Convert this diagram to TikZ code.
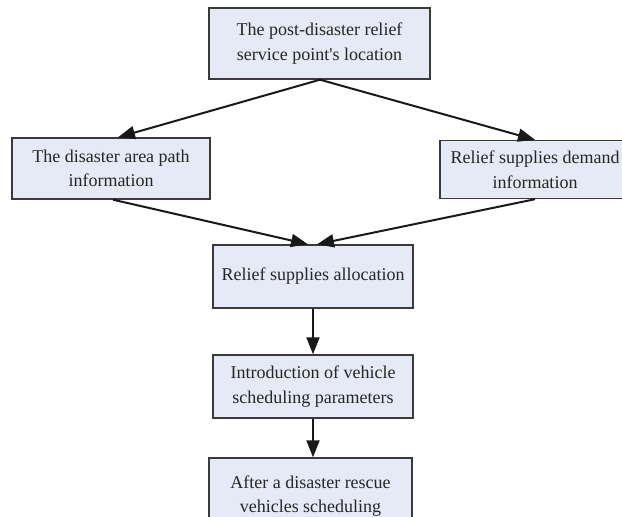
\documentclass[tikz,border=0pt]{standalone}
\usepackage{fontspec}
\setmainfont{Liberation Serif}
\usetikzlibrary{arrows.meta,calc}
\definecolor{boxfill}{HTML}{E6EAF6}
\definecolor{boxline}{HTML}{3A3A3A}
\definecolor{txt}{HTML}{262626}
\begin{document}
\begin{tikzpicture}[x=1pt,y=-1pt,
  box/.style={draw=boxline,line width=1.4pt,fill=boxfill,text=txt,align=center,
    font=\fontsize{18}{24.5}\selectfont,inner sep=0pt},
  conn/.style={line width=2pt,draw=black!90,-{Triangle[length=17pt,width=13pt]}}]
\useasboundingbox (0,0) rectangle (622,517);
\node[box,minimum width=221pt,minimum height=71pt] (top) at (319.5,43.5) {The post-disaster relief\\service point\textquotesingle s location};
\node[box,minimum width=198pt,minimum height=61pt] (left) at (111,168.5) {The disaster area path\\information};
\node[box,minimum width=190pt,minimum height=58pt] (right) at (535,169.5) {Relief supplies demand\\information};
\node[box,minimum width=200pt,minimum height=63pt] (alloc) at (313,276.5) {Relief supplies allocation};
\node[box,minimum width=200pt,minimum height=63pt] (intro) at (313,386.5) {Introduction of vehicle\\scheduling parameters};
\node[box,minimum width=203pt,minimum height=72pt,text depth=0pt] (final) at (310.5,494) {After a disaster rescue\\vehicles scheduling};
\coordinate (ta) at ($(top.south)+(0.5,0)$);
\draw[conn] (ta) -- ($(left.north)+(7,0)$);
\draw[conn] (ta) -- ($(right.north)+(0,0)$);
\draw[conn] ($(left.south)+(2,0)$) -- ($(alloc.north)+(-5,0)$);
\draw[conn] ($(right.south)+(0,0)$) -- ($(alloc.north)+(4,0)$);
\draw[conn] (alloc.south) -- (intro.north);
\draw[conn] (intro.south) -- ($(final.north)+(2.5,0)$);
\end{tikzpicture}
\end{document}
